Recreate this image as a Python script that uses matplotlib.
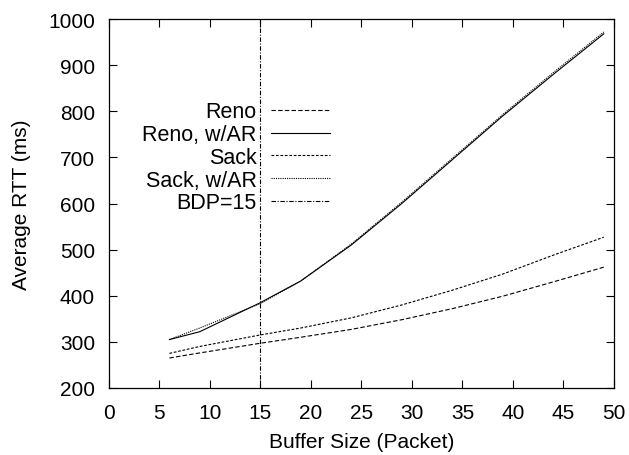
import matplotlib
matplotlib.use("Agg")
import matplotlib.pyplot as plt

plt.rcParams["font.family"] = ["Liberation Sans", "DejaVu Sans"]

# buffer sizes (packets)
buffer_sizes = [6, 9, 15, 19, 24, 29, 34, 39, 44, 49]

# average RTT (ms)
reno = [265, 276, 297, 310, 327, 348, 372, 399, 430, 462]
reno_ar = [305, 322, 385, 432, 510, 600, 695, 790, 880, 968]
sack = [275, 290, 315, 330, 352, 380, 412, 447, 488, 527]
sack_ar = [305, 330, 383, 432, 512, 603, 698, 793, 884, 972]

bdp = 15

fig = plt.figure(figsize=(6.29, 4.56), dpi=100)
ax = fig.add_axes([0.173, 0.147, 0.803, 0.809])

lw = 0.8
ax.plot(buffer_sizes, reno, color="black", lw=lw, linestyle=(0, (4, 2)), label="Reno")
ax.plot(buffer_sizes, reno_ar, color="black", lw=lw, linestyle="-", label="Reno, w/AR")
ax.plot(buffer_sizes, sack, color="black", lw=lw, linestyle=(0, (2.5, 1.5)), label="Sack")
ax.plot(buffer_sizes, sack_ar, color="black", lw=lw, linestyle=(0, (1, 1)), label="Sack, w/AR")
ax.axvline(bdp, color="black", lw=lw, linestyle=(0, (4, 1.5, 1, 1.5)), label="BDP=15")

ax.set_xlim(0, 50)
ax.set_ylim(200, 1000)
ax.set_xticks(range(0, 51, 5))
ax.set_yticks(range(200, 1001, 100))
ax.tick_params(direction="in", top=True, right=True, labelsize=15, length=6, width=0.8)
ax.tick_params(axis="y", pad=10)
ax.tick_params(axis="x", pad=11)
for spine in ax.spines.values():
    spine.set_linewidth(0.9)

ax.set_xlabel("Buffer Size (Packet)", fontsize=15, labelpad=7)
ax.set_ylabel("Average RTT (ms)", fontsize=15, labelpad=12)

ax.legend(loc="upper right", bbox_to_anchor=(0.455, 0.80), frameon=False, markerfirst=False,
          fontsize=15.5, handlelength=2.75, handletextpad=0.65, labelspacing=0.08,
          borderaxespad=0)

fig.savefig("out.png", dpi=100)
